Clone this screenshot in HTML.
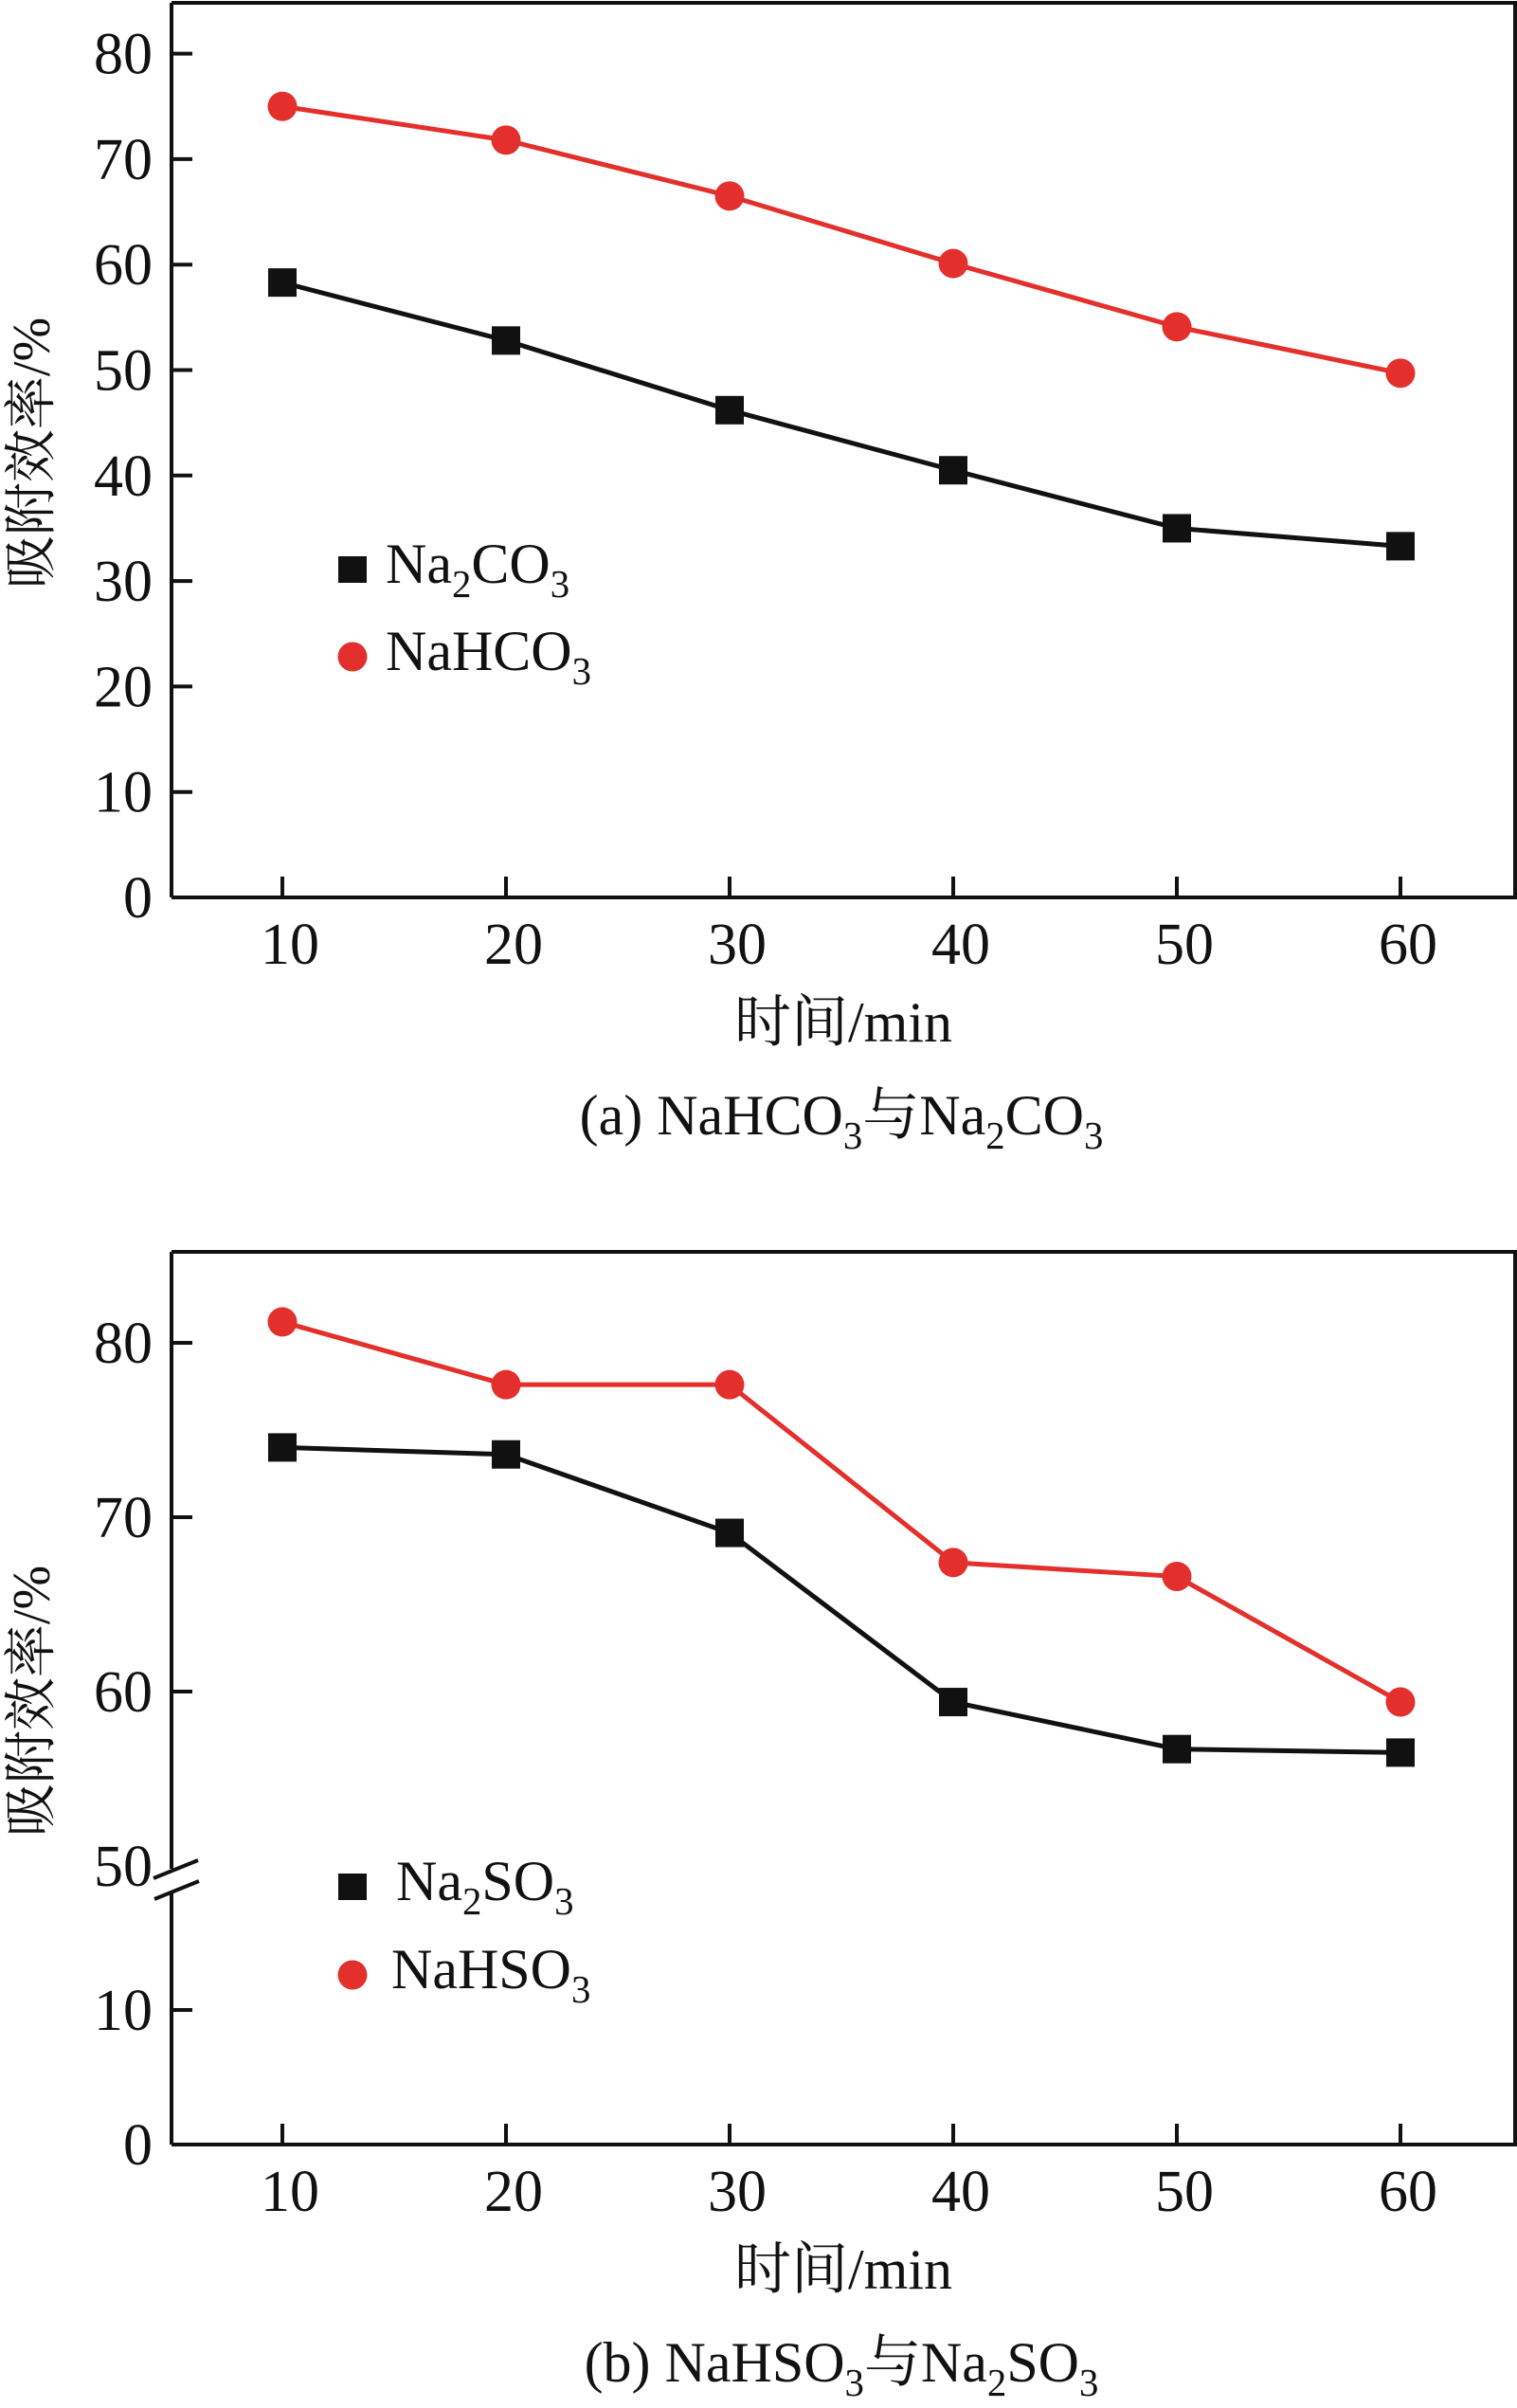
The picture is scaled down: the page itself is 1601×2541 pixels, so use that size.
<!DOCTYPE html>
<html><head><meta charset="utf-8"><style>
html,body{margin:0;padding:0;background:#fff;}
svg{display:block;}
text{font-family:"Liberation Serif","Noto Serif CJK SC",serif;fill:#111;}
</style></head><body>
<svg id="chart" width="1601" height="2541" viewBox="0 0 1601 2541" xmlns="http://www.w3.org/2000/svg"></svg>
<script>
const categories = [10, 20, 30, 40, 50, 60];
const na2co3 = [58.3, 52.8, 46.2, 40.5, 35.0, 33.3];
const nahco3 = [75.0, 71.8, 66.5, 60.1, 54.1, 49.7];
const yTicksA = [0, 10, 20, 30, 40, 50, 60, 70, 80];
const na2so3 = [74.0, 73.6, 69.1, 59.4, 56.7, 56.5];
const nahso3 = [81.2, 77.6, 77.6, 67.4, 66.6, 59.4];
const yTicksBUpper = [50, 60, 70, 80];
const yTicksBLower = [0, 10];

const NS = 'http://www.w3.org/2000/svg';
const svg = document.getElementById('chart');
const RED = '#e3302c', BLK = '#111';
function mk(tag, attrs, parent) {
  const e = document.createElementNS(NS, tag);
  for (const k in attrs) e.setAttribute(k, attrs[k]);
  (parent || svg).appendChild(e);
  return e;
}
function xScale(v) { return 298 + (v - 10) * 23.6; }

function chemText(parent, x, y, parts, size, anchor) {
  const t = mk('text', {x: x, y: y, 'font-size': size, 'text-anchor': anchor || 'start'}, parent);
  parts.forEach(p => {
    const s = document.createElementNS(NS, 'tspan');
    s.textContent = p[0];
    if (p[1]) { s.setAttribute('font-size', size * 0.68); s.setAttribute('dy', size * 0.25); }
    else if (p[2]) { s.setAttribute('dy', -size * 0.25); }
    t.appendChild(s);
  });
  return t;
}

function drawPanel(opt) {
  const g = mk('g', {});
  
  
  const L = 181, R = 1599, T = opt.top, B = opt.bottom;
  // frame (top, right, bottom)
  const fr = mk('path', {d: `M${L} ${T} H${R} V${B} H${L}`, fill: 'none', stroke: BLK, 'stroke-width': 4}, g);
  
  
  // y-axis
  if (opt.brk) {
    const a1 = mk('line', {x1: L, y1: T, x2: L, y2: opt.brk[0], stroke: BLK, 'stroke-width': 4}, g);
    
    
    const a2 = mk('line', {x1: L, y1: opt.brk[1], x2: L, y2: B, stroke: BLK, 'stroke-width': 4}, g);
    
    
    const b1 = mk('line', {x1: 162, y1: 1982, x2: 209, y2: 1963, stroke: BLK, 'stroke-width': 4}, g);
    
    
    const b2 = mk('line', {x1: 163, y1: 2004, x2: 210, y2: 1985, stroke: BLK, 'stroke-width': 4}, g);
    
    
  } else {
    const a = mk('line', {x1: L, y1: T, x2: L, y2: B, stroke: BLK, 'stroke-width': 4}, g);
    
    
  }
  // y ticks
  opt.yTicks.forEach(v => {
    const y = opt.y(v);
    if (v !== 0 && !(opt.brk && v === 50)) {
      const tk = mk('line', {x1: L, y1: y, x2: L + 22, y2: y, stroke: BLK, 'stroke-width': 4}, g);
      
      
    }
    const lb = mk('text', {x: 161, y: y + 21, 'font-size': 62, 'text-anchor': 'end'}, g);
    lb.textContent = v;
    
    
  });
  // x ticks
  categories.forEach(c => {
    const x = xScale(c);
    const tk = mk('line', {x1: x, y1: B, x2: x, y2: B - 22, stroke: BLK, 'stroke-width': 4}, g);
    
    
    const lb = mk('text', {x: x + 8, y: B + 70, 'font-size': 62, 'text-anchor': 'middle'}, g);
    lb.textContent = c;
    
    
  });
  // y title
  const yt = mk('text', {x: 0, y: 0, 'font-size': 56, 'text-anchor': 'middle', transform: `translate(52 ${opt.yTitleY}) rotate(-90)`}, g);
  yt.textContent = '吸附效率/%';
  
  
  // x title
  const xt = mk('text', {x: 890, y: B + 152, 'font-size': 60, 'text-anchor': 'middle'}, g);
  xt.textContent = '时间/min';
  
  
  // caption
  const cap = chemText(g, 888, B + 250, opt.caption, 60, 'middle');
  
  
  // series
  opt.series.forEach(s => {
    const pts = categories.map((c, i) => [xScale(c), opt.y(s.values[i])]);
    const ln = mk('polyline', {points: pts.map(p => p.join(',')).join(' '), fill: 'none', stroke: s.color, 'stroke-width': 5, 'stroke-linejoin': 'round'}, g);
    
    
    pts.forEach(p => {
      let m;
      if (s.shape === 'square') m = mk('rect', {x: p[0] - 15, y: p[1] - 15, width: 30, height: 30, fill: s.color}, g);
      else m = mk('circle', {cx: p[0], cy: p[1], r: 15.5, fill: s.color}, g);
      
      
    });
    // legend
    let lm;
    if (s.shape === 'square') lm = mk('rect', {x: 357, y: s.legY - 14, width: 30, height: 28, fill: s.color}, g);
    else lm = mk('circle', {cx: 372, cy: s.legY, r: 15.5, fill: s.color}, g);
    
    
    const lt = chemText(g, s.legX, s.legY + 14, s.label, 60);
    
    
  });
}

drawPanel({
  name: 'panel-a', top: 3, bottom: 947, yTitleY: 478,
  yTicks: yTicksA,
  y: v => 947 - v * 11.13,
  caption: [['(a) NaHCO'], ['3', true], ['与Na', false, true], ['2', true], ['CO', false, true], ['3', true]],
  series: [
    {key: 'na2co3', values: na2co3, color: BLK, shape: 'square', legY: 601, legX: 407, label: [['Na'], ['2', true], ['CO', false, true], ['3', true]]},
    {key: 'nahco3', values: nahco3, color: RED, shape: 'circle', legY: 693, legX: 407, label: [['NaHCO'], ['3', true]]}
  ]
});

drawPanel({
  name: 'panel-b', top: 1321, bottom: 2263, yTitleY: 1795, brk: [1972, 1997],
  yTicks: yTicksBUpper.concat(yTicksBLower),
  y: v => v >= 50 ? 1969 - (v - 50) * 18.4 : 2263 - v * 14.2,
  caption: [['(b) NaHSO'], ['3', true], ['与Na', false, true], ['2', true], ['SO', false, true], ['3', true]],
  series: [
    {key: 'na2so3', values: na2so3, color: BLK, shape: 'square', legY: 1991, legX: 418, label: [['Na'], ['2', true], ['SO', false, true], ['3', true]]},
    {key: 'nahso3', values: nahso3, color: RED, shape: 'circle', legY: 2084, legX: 413, label: [['NaHSO'], ['3', true]]}
  ]
});
</script>
</body></html>
